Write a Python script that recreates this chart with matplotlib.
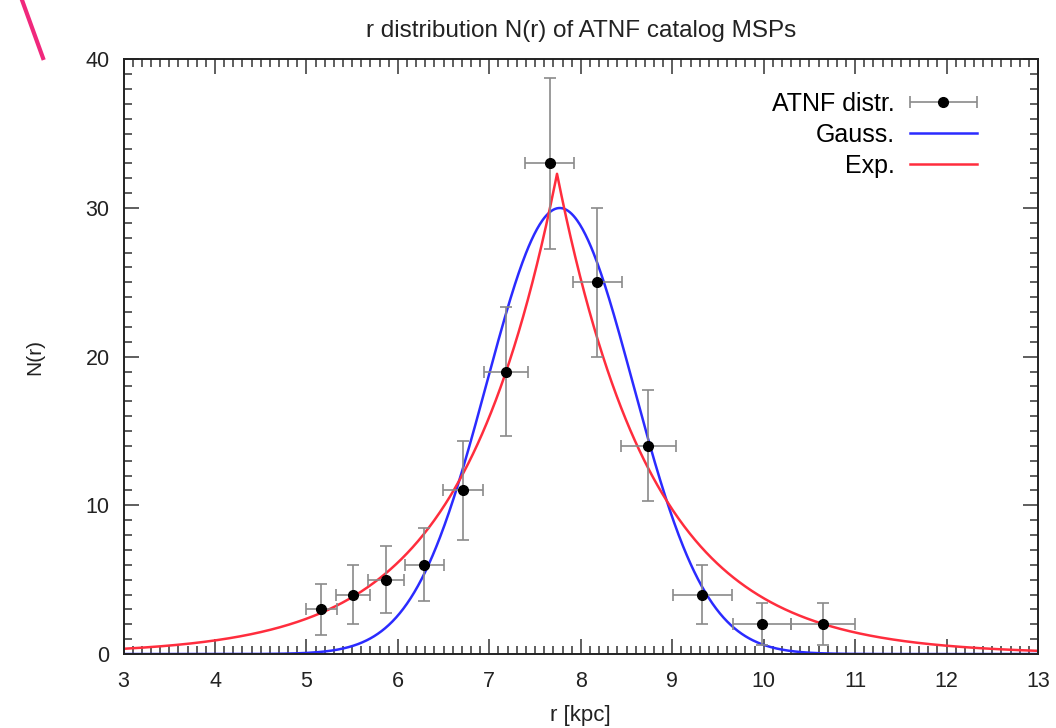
import matplotlib.pyplot as plt
import numpy as np
from matplotlib.lines import Line2D
from matplotlib.legend_handler import HandlerErrorbar
from matplotlib.ticker import MultipleLocator

plt.rcParams['font.family'] = ['Liberation Sans', 'DejaVu Sans']

# binned ATNF MSP counts
r = [5.16, 5.51, 5.87, 6.29, 6.71, 7.18, 7.66, 8.18, 8.74, 9.33, 9.98, 10.65]
N = [3, 4, 5, 6, 11, 19, 33, 25, 14, 4, 2, 2]
r_err = [0.17, 0.19, 0.20, 0.21, 0.22, 0.24, 0.27, 0.27, 0.30, 0.32, 0.32, 0.35]
N_err = [1.73, 2.0, 2.24, 2.45, 3.32, 4.36, 5.74, 5.0, 3.74, 2.0, 1.41, 1.41]

# fitted models (parameters)
gauss_amp, gauss_mu, gauss_sigma = 30.0, 7.77, 0.80
exp_amp, exp_mu, exp_scale = 32.3, 7.74, 1.05

r_model = np.linspace(3, 13, 1001)
gauss = gauss_amp * np.exp(-(r_model - gauss_mu) ** 2 / (2 * gauss_sigma ** 2))
expo = exp_amp * np.exp(-np.abs(r_model - exp_mu) / exp_scale)

fig = plt.figure(figsize=(10.56, 7.28), dpi=100)
ax = fig.add_axes([0.117, 0.1016, 0.866, 0.8169])

err_kw = dict(fmt='o', color='black', ms=7, ecolor='#8a8a8a', elinewidth=1.2, capsize=4, capthick=1.2)
ax.errorbar(r, N, xerr=r_err, yerr=N_err, zorder=3, **err_kw)
ax.plot(r_model, gauss, color='#2b2bff', lw=1.8, label='Gauss.')
ax.plot(r_model, expo, color='#ff2d3d', lw=1.8, label='Exp.')
# legend proxy: gnuplot style horizontal bar only
proxy = ax.errorbar([np.nan], [np.nan], xerr=[1], label='ATNF distr.', **err_kw)

ax.set_xlim(3, 13)
ax.set_ylim(0, 40)
ax.xaxis.set_major_locator(MultipleLocator(1))
ax.xaxis.set_minor_locator(MultipleLocator(0.1))
ax.yaxis.set_major_locator(MultipleLocator(10))
ax.yaxis.set_minor_locator(MultipleLocator(1))
ax.tick_params(which='both', direction='in', top=True, right=True, color='#333333', width=1.1)
ax.tick_params(which='major', length=11, labelsize=15.5, labelcolor='#222222')
ax.tick_params(axis='x', which='major', pad=12)
ax.tick_params(axis='y', which='major', pad=10)
ax.tick_params(which='minor', length=6)
for s in ax.spines.values():
    s.set_linewidth(1.4)
    s.set_color('#222222')

ax.set_title('r distribution N(r) of ATNF catalog MSPs', fontsize=17.5, pad=16, color='#222222')
ax.set_xlabel('r [kpc]', fontsize=16, color='#222222')
ax.xaxis.set_label_coords(0.5, -0.086)
ax.set_ylabel('N(r)', fontsize=15, color='#222222')
ax.yaxis.set_label_coords(-0.087, 0.5)

handles, labels = ax.get_legend_handles_labels()
order = [labels.index('ATNF distr.'), labels.index('Gauss.'), labels.index('Exp.')]
ax.legend([handles[i] for i in order], [labels[i] for i in order],
          loc='upper right', bbox_to_anchor=(0.958, 0.983), frameon=False, fontsize=18,
          markerfirst=False, handlelength=2.7, handletextpad=0.6, labelspacing=0.28,
          handler_map={proxy: HandlerErrorbar(xerr_size=1.35)})

# pink annotation stroke in the corner
fig.add_artist(Line2D([22 / 1056, 43 / 1056], [1.0, 1 - 58 / 728], color='#f0287c', lw=3,
                      transform=fig.transFigure))

fig.savefig('out.png', dpi=100)
